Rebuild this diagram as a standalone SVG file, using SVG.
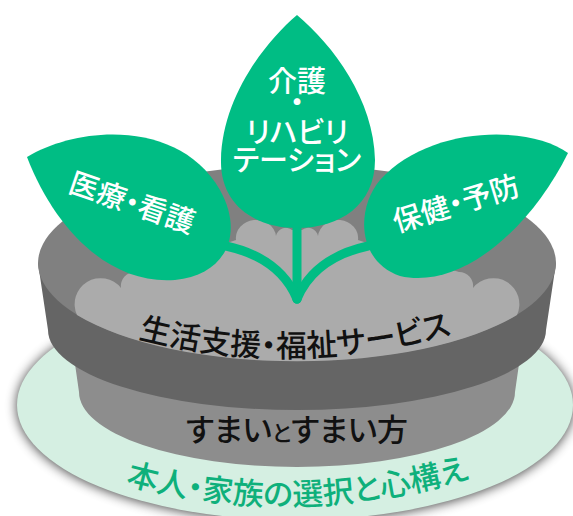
<svg xmlns="http://www.w3.org/2000/svg" xmlns:xlink="http://www.w3.org/1999/xlink" width="573" height="516" viewBox="0 0 573 516">
  <style>
    .jp { font-family: "Noto Sans CJK JP", "Noto Sans", sans-serif; font-weight: 500; font-feature-settings: "palt"; }
    .leaf { fill: #00bd84; }
    .leaf-text { fill: #ffffff; font-size: 29px; }
    .stem { fill: none; stroke: #00bd84; stroke-width: 9; stroke-linecap: round; stroke-linejoin: round; }
    .dark-text { fill: #111111; }
  </style>
  <defs>
    <filter id="soft-shadow" x="-10%" y="-20%" width="120%" height="140%">
      <feGaussianBlur stdDeviation="6"/>
    </filter>
    <!-- baselines for the curved labels -->
    <path id="soil-line" d="M 110,330 Q 290,386 480,326"/>
    <path id="base-line" d="M 100,476 Q 290,538 495,470"/>
  </defs>

  <!-- ground disc -->
  <g id="ground">
    <ellipse cx="295" cy="406" rx="278" ry="115" fill="#000" opacity="0.75" filter="url(#soft-shadow)"/>
    <ellipse cx="295" cy="405" rx="278" ry="115" fill="#d5efe2"/>
    <text class="jp" font-size="31" fill="#0eb07b" text-anchor="middle"><textPath xlink:href="#base-line" href="#base-line" startOffset="50%">本人・家族の選択と心構え</textPath></text>
  </g>

  <!-- pot: lower body, rim side, rim top, soil -->
  <g id="pot-body">
    <path d="M 73,350 L 79,392 A 218,75 0 0 0 515,392 L 521,350 Z" fill="#8d8d8d"/>
    <text class="jp dark-text" x="297" y="441" font-size="31" text-anchor="middle">すまい<tspan font-size="22">と</tspan>すまい方</text>
  </g>
  <g id="pot-rim">
    <path d="M 38,263 L 48,330 A 249,80 0 0 0 546,330 L 556,263 Z" fill="#656565"/>
    <ellipse cx="297" cy="263" rx="259" ry="98" fill="#808080"/>
  </g>
  <g id="soil">
    <path d="M 77,315 A 26,26 0 0 1 121,288 A 14,14 0 0 1 135,272 L 200,252 L 236,240 A 20,18 0 0 1 276,236 A 10,10 0 0 1 292,230 L 302,230 A 10,10 0 0 1 318,236 A 20,18 0 0 1 358,240 L 394,252 L 459,272 A 14,14 0 0 1 473,288 A 26,26 0 0 1 517,315 A 259,98 0 0 1 77,315 Z" fill="#ababab"/>
    <text class="jp dark-text" font-size="31" text-anchor="middle"><textPath xlink:href="#soil-line" href="#soil-line" startOffset="50%">生活支援・福祉サービス</textPath></text>
  </g>

  <!-- stems -->
  <g id="connectors">
    <path class="stem" d="M 297,222 L 297,299"/>
    <path class="stem" d="M 226,246 Q 280,258 297,299"/>
    <path class="stem" d="M 368,246 Q 314,258 297,299"/>
  </g>

  <!-- leaves -->
  <g id="leaf-left">
    <path class="leaf" d="M 27,157 C 80,125 180,120 220,190 C 245,235 225,275 175,280 C 110,285 55,230 27,157 Z"/>
    <text class="jp leaf-text" x="132" y="213" text-anchor="middle" transform="rotate(19 132 203)">医療・看護</text>
  </g>
  <g id="leaf-right">
    <path class="leaf" d="M 568,153 C 530,125 430,125 380,180 C 355,210 358,262 400,276 C 460,290 530,230 568,153 Z"/>
    <text class="jp leaf-text" x="456" y="214" text-anchor="middle" transform="rotate(-17 456 204)">保健・予防</text>
  </g>
  <g id="leaf-center">
    <path class="leaf" d="M 297,15 C 262,45 222,100 221,160 C 220,205 255,228 297,228 C 340,228 375,205 375,160 C 374,100 333,45 297,15 Z"/>
    <text class="jp leaf-text" font-size="28" x="297" y="92" text-anchor="middle">介護</text>
    <text class="jp leaf-text" font-size="20" x="297" y="113" text-anchor="middle">・</text>
    <text class="jp leaf-text" font-size="27" x="297" y="143" text-anchor="middle">リハビリ</text>
    <text class="jp leaf-text" font-size="27" x="297" y="171" text-anchor="middle">テーション</text>
  </g>
</svg>
